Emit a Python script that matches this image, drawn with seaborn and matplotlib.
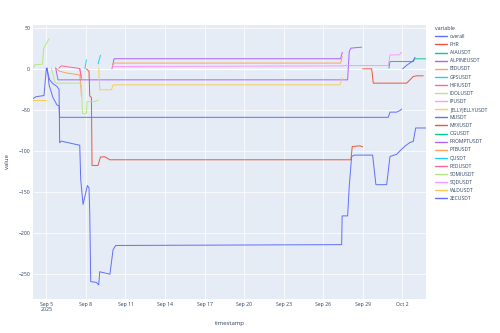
import numpy as np
import pandas as pd
import matplotlib
matplotlib.use("Agg")
import matplotlib.pyplot as plt
import seaborn as sns

# ---------------- data (hours since 2025-09-05 00:00, values) ----------------
START = "2025-09-05 00:00"

series_names = ["overall", "PHR", "AIAUSDT", "ALPINEUSDT", "BIDUSDT", "GPSUSDT",
                "HIFIUSDT", "IDOLUSDT", "IPUSDT", "JELLYJELLYUSDT", "MUSDT",
                "MYXUSDT", "OGUSDT", "PROMPTUSDT", "PTBUSDT", "QUSDT", "REDUSDT",
                "SOMIUSDT", "SQDUSDT", "WLDUSDT", "ZECUSDT"]

overall_h = [-24.4, -19.5, -4.4, 0, 6, 12, 19.3, 23, 24.2, 27, 60.7, 62.5, 66.7, 71.6,
             74.7, 77.6, 78.9, 80.7, 91.1, 95.3, 97.1, 115.7, 121.4, 126.3, 537.6,
             538.5, 548.5, 551.4, 555.8, 560.5, 594, 600, 619.6, 625.6, 637.8, 647,
             653, 662, 668, 672.4, 691.2]
overall_v = [-36.5, -34, -32.5, 1, -13.4, -18, -21.5, -25, -90, -88, -93, -135, -165,
             -151, -142, -145, -174, -259, -260, -263, -247, -250, -220, -215, -214,
             -179, -179, -143, -106.7, -105, -105, -141, -141, -106.7, -104, -97.7,
             -94, -89.6, -88.4, -72, -72]

PHR_h = [72.9, 77.6, 78.9, 82, 83.1, 94, 98.4, 106.2, 115.4, 554.5, 556.9, 571, 575.9]
PHR_v = [0, -3, -33, -35, -117.6, -117.6, -107.4, -107, -110.7, -110.7, -94.5, -93.7, -95]

AIAUSDT_h = [623.8, 625.6, 668.5]
AIAUSDT_v = [0.8, 8.9, 8.9]

ALPINEUSDT_h = [119.5, 123.2, 535.8, 538.7]
ALPINEUSDT_v = [0, 12.3, 12.3, 20]

BIDUSDT_h = [16.9, 24.2, 36.4, 60.7, 62.5, 63.8]
BIDUSDT_v = [1, -3, -5, -7.5, -20, -33]

GPSUSDT_h = [70, 72.9]
GPSUSDT_v = [0, 11]

HIFIUSDT_h = [23, 27.3, 48.5, 60.7, 63.8]
HIFIUSDT_v = [1, 3.6, 1.6, 0.4, -11.3]

IDOLUSDT_h = [9.1, 15.1, 18.2, 60.7, 63.8, 65.6, 69.8, 72.9, 74, 88, 95.3]
IDOLUSDT_v = [1, -15.4, -17.4, -17.4, -19.5, -54, -55, -54, -40, -40, -37.7]

IPUSDT_h = [119.5, 121.4, 538.7]
IPUSDT_v = [0, 2.8, 3.6]

JELLYJELLYUSDT_h = [-24.4, -1.3]
JELLYJELLYUSDT_v = [-38.5, -38.5]

MUSDT_h = [1.5, 5, 12, 19.3, 23, 24.2, 622.5, 625.6, 637.8, 643.8, 646.9]
MUSDT_v = [1, -20, -35, -44, -45, -59, -59, -52.7, -52.7, -50.7, -49]

MYXUSDT_h = [575.9, 592.3, 595.2, 656, 659, 663.3, 668, 674.2, 686.3]
MYXUSDT_v = [0, 0, -17.4, -17.4, -15.4, -12.5, -9.3, -8.5, -8.5]

OGUSDT_h = [668.5, 670, 691.2]
OGUSDT_v = [8.9, 12.2, 12.2]

PROMPTUSDT_h = [16.9, 21.1, 548.5, 551.4, 554.5, 574]
PROMPTUSDT_v = [1, -13.4, -13.4, 21, 25.2, 26.4]

PTBUSDT_h = [120, 122, 535.8, 538.7]
PTBUSDT_v = [3, 7, 7, 15]

QUSDT_h = [94, 98.4]
QUSDT_v = [6, 16.5]

REDUSDT_h = [60.7, 63.8]
REDUSDT_v = [0.4, -11.3]

SOMIUSDT_h = [-24.4, -21.3, -7.3, -4.9, 0, 4.7]
SOMIUSDT_v = [1, 5, 5.7, 25, 31, 36.5]

SQDUSDT_h = [538.7, 543.6, 622.5, 625.6, 642.5, 646.9]
SQDUSDT_v = [3.6, 4.0, 4.0, 17, 17, 20.3]

WLDUSDT_h = [95.3, 97.1, 118.4, 121.4, 534.5, 538.7]
WLDUSDT_v = [0.8, -25.5, -25.5, -19.5, -19.5, -11]

ZECUSDT_h = [648.7, 652, 657.1, 663.3, 668, 671.1]
ZECUSDT_v = [0, 2, 4.9, 7.7, 10, 14]

tick_dates = ["2025-09-05", "2025-09-08", "2025-09-11", "2025-09-14", "2025-09-17",
              "2025-09-20", "2025-09-23", "2025-09-26", "2025-09-29", "2025-10-02"]
y_ticks = [50, 0, -50, -100, -150, -200, -250]

plotly_colors = ["#636EFA", "#EF553B", "#00CC96", "#AB63FA", "#FFA15A",
                 "#19D3F3", "#FF6692", "#B6E880", "#FF97FF", "#FECB52"]

# ---------------- build long table ----------------
g = globals()
frames = []
for name in series_names:
    hh = np.array(g[name + "_h"], dtype=float)
    vv = np.array(g[name + "_v"], dtype=float)
    frames.append(pd.DataFrame({
        "timestamp": pd.Timestamp(START) + pd.to_timedelta(hh, unit="h"),
        "value": vv,
        "variable": name,
    }))
df = pd.concat(frames, ignore_index=True)
palette = {n: plotly_colors[i % len(plotly_colors)] for i, n in enumerate(series_names)}

# ---------------- plot ----------------
sns.set_theme(style="darkgrid")
plt.rcParams["font.family"] = ["Open Sans", "DejaVu Sans"]
text_color = "#2a3f5f"

fig = plt.figure(figsize=(5, 3.33), dpi=100)
ax = fig.add_axes([0.066, 0.102, 0.786, 0.823])
ax.set_facecolor("#E5ECF6")

sns.lineplot(data=df, x="timestamp", y="value", hue="variable",
             hue_order=series_names, palette=palette, estimator=None,
             sort=False, linewidth=0.7, ax=ax)

ax.grid(True, color="white", linewidth=0.5)
ax.axhline(0, color="white", linewidth=0.9, zorder=0.6)
for s in ax.spines.values():
    s.set_visible(False)

ax.set_xlim(df["timestamp"].min(), df["timestamp"].max())
ax.set_ylim(-280.2, 53.4)
ax.set_yticks(y_ticks)
ax.set_yticklabels([f"{t:d}".replace("-", "\u2212") for t in y_ticks])

td = pd.to_datetime(tick_dates)
labels = [f"{d.strftime('%b')} {d.day}" for d in td]
labels[0] = labels[0] + "\n" + str(td[0].year)
ax.set_xticks(td)
ax.set_xticklabels(labels, linespacing=1.1)

ax.tick_params(axis="both", length=0, labelsize=3.7, colors=text_color, pad=2)
for lab in ax.get_xticklabels():
    lab.set_verticalalignment("top")

ax.set_xlabel("timestamp", fontsize=4.3, color=text_color, labelpad=6)
ax.set_ylabel("value", fontsize=4.3, color=text_color, labelpad=6)

ax.get_legend().remove()
handles = [plt.Line2D([], [], color=palette[n], linewidth=1.0) for n in series_names]
leg = fig.legend(handles, series_names, title="variable", loc="upper left",
                 bbox_to_anchor=(0.870, 0.922), frameon=False, fontsize=3.6,
                 title_fontsize=3.9, handlelength=2.4, handletextpad=0.6,
                 labelspacing=0.62, borderpad=0, borderaxespad=0, alignment="left")
leg.get_title().set_color(text_color)
for t in leg.get_texts():
    t.set_color(text_color)

fig.savefig("out.png", dpi=100, facecolor="white")
